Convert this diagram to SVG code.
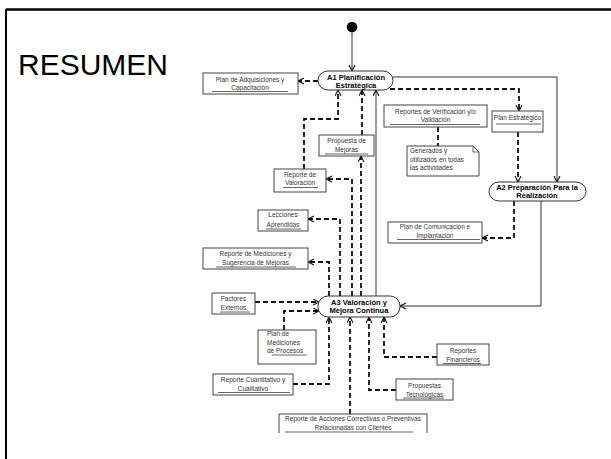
<svg xmlns="http://www.w3.org/2000/svg" width="611" height="459" viewBox="0 0 611 459">
<style>
.bx{fill:#fff;stroke:#444;stroke-width:1}
.ul{stroke:#555;stroke-width:0.9}
.t{font-family:"Liberation Sans",Arial,sans-serif;font-size:6.5px;fill:#333;text-anchor:middle}
.tl{font-family:"Liberation Sans",Arial,sans-serif;font-size:6.5px;fill:#333}
.nd{fill:#fff;stroke:#333;stroke-width:1}
.nt{font-family:"Liberation Sans",Arial,sans-serif;font-size:7.5px;font-weight:bold;fill:#000;text-anchor:middle}
.d{fill:none;stroke:#111;stroke-width:1.8;stroke-dasharray:5 3;marker-end:url(#ar)}
.s{fill:none;stroke:#333;stroke-width:1;marker-end:url(#ar)}
</style>
<defs>
<marker id="ar" markerUnits="userSpaceOnUse" markerWidth="9" markerHeight="9" refX="6.5" refY="3.5" orient="auto">
<path d="M0.5,0.5 L6.5,3.5 L0.5,6.5" fill="none" stroke="#111" stroke-width="1.1" stroke-dasharray="none"/>
</marker>
</defs>
<rect width="611" height="459" fill="#fff"/>
<g id="frame">
<line x1="6" y1="9.5" x2="611" y2="9.5" stroke="#000" stroke-width="2.5"/>
<line x1="6" y1="9" x2="6" y2="459" stroke="#000" stroke-width="2"/>
</g>
<text x="18" y="75" font-family="Liberation Sans,Arial,sans-serif" font-size="30" fill="#000">RESUMEN</text>
<g id="connectors">
<circle cx="352" cy="27" r="5.3" fill="#000"/>
<path class="s" d="M352,32 V71"/>
<path class="d" d="M318,81 H298"/>
<path class="s" d="M393,77 H557 V182"/>
<path class="d" d="M390,89 H519 V111"/>
<path class="d" d="M518,132 V182"/>
<path class="d" d="M514,201 V238 H482"/>
<path class="s" d="M541,201 V306 H400"/>
<path d="M438,127 V146" fill="none" stroke="#111" stroke-width="1.8" stroke-dasharray="5 3"/>
<path class="d" d="M362,135 V90"/>
<path class="s" d="M376,296 V90"/>
<path class="d" d="M304,169 V119 H338 V90"/>
<path class="d" d="M352,296 V179 H326"/>
<path class="d" d="M361,296 V156"/>
<path class="d" d="M340,296 V219 H308"/>
<path class="d" d="M329,296 V262 H308"/>
<path class="d" d="M255,302 H319"/>
<path class="d" d="M284,330 V311 H319"/>
<path class="d" d="M293,384 H329 V317"/>
<path class="d" d="M350,414 V317"/>
<path class="d" d="M396,390 H369 V317"/>
<path class="d" d="M437,357 H384 V317"/>
</g>
<g id="A1">
<rect class="nd" x="318" y="71" width="75" height="19" rx="10" ry="9.5"/>
<text class="nt" x="356" y="79.8">A1 Planificación</text>
<text class="nt" x="356" y="88">Estratégica</text>
</g>
<g id="A2">
<rect class="nd" x="489" y="182" width="97" height="19" rx="10" ry="9.5"/>
<text class="nt" x="537" y="190">A2 Preparación Para la</text>
<text class="nt" x="537" y="198">Realización</text>
</g>
<g id="A3">
<rect class="nd" x="318" y="296" width="82" height="21" rx="10" ry="10"/>
<text class="nt" x="359" y="305">A3 Valoración y</text>
<text class="nt" x="359" y="313">Mejora Continua</text>
</g>
<g id="plan-adquisiciones">
<rect class="bx" x="203" y="73" width="95" height="21"/>
<text class="t" x="250" y="81.5">Plan de Adquisiciones y</text>
<text class="t" x="250" y="89.5">Capacitación</text>
<line class="ul" x1="212" y1="91.5" x2="288" y2="91.5"/>
</g>
<g id="propuesta-mejoras">
<rect class="bx" x="319" y="135" width="55" height="21"/>
<text class="t" x="346.5" y="142.5">Propuesta de</text>
<text class="t" x="346.5" y="151.5">Mejoras</text>
<line class="ul" x1="325" y1="154" x2="368" y2="154"/>
</g>
<g id="reportes-verificacion">
<rect class="bx" x="384" y="105" width="103" height="22"/>
<text class="t" x="435.5" y="114">Reportes de Verificación y/o</text>
<text class="t" x="435.5" y="122">Validación</text>
<line class="ul" x1="390" y1="124.5" x2="480" y2="124.5"/>
</g>
<g id="plan-estrategico">
<rect class="bx" x="492" y="111" width="51" height="21"/>
<text class="t" x="517.5" y="119.5">Plan Estratégico</text>
<line class="ul" x1="496" y1="124" x2="541" y2="124"/>
</g>
<g id="nota">
<path class="bx" d="M407,146 H473 L479,152 V176 H407 Z"/>
<path d="M473,146 V152 H479" fill="none" stroke="#444" stroke-width="0.8"/>
<text class="tl" x="410" y="153">Generados y</text>
<text class="tl" x="410" y="161.5">utilizados en todas</text>
<text class="tl" x="410" y="170">las actividades</text>
</g>
<g id="plan-comunicacion">
<rect class="bx" x="388" y="222" width="94" height="21"/>
<text class="t" x="435" y="228.5">Plan de Comunicación e</text>
<text class="t" x="435" y="237.5">Implantación</text>
<line class="ul" x1="397" y1="239.5" x2="480" y2="239.5"/>
</g>
<g id="reporte-valoracion">
<rect class="bx" x="274" y="169" width="52" height="23"/>
<text class="t" x="300" y="176.5">Reporte de</text>
<text class="t" x="300" y="185">Valoración</text>
<line class="ul" x1="283" y1="187.5" x2="318" y2="187.5"/>
</g>
<g id="lecciones">
<rect class="bx" x="258" y="210" width="50" height="21"/>
<text class="t" x="283" y="217">Lecciones</text>
<text class="t" x="283" y="226.5">Aprendidas</text>
<line class="ul" x1="266" y1="229" x2="301" y2="229"/>
</g>
<g id="reporte-mediciones">
<rect class="bx" x="203" y="248" width="105" height="21"/>
<text class="t" x="255.5" y="256">Reporte de Mediciones y</text>
<text class="t" x="255.5" y="265">Sugerencia de Mejoras</text>
<line class="ul" x1="216" y1="267" x2="296" y2="267"/>
</g>
<g id="factores">
<rect class="bx" x="212" y="293" width="43" height="21"/>
<text class="t" x="233.5" y="301">Factores</text>
<text class="t" x="233.5" y="310">Externos</text>
<line class="ul" x1="220" y1="312" x2="250" y2="312"/>
</g>
<g id="plan-mediciones">
<rect class="bx" x="258" y="330" width="58" height="34"/>
<text class="tl" x="267" y="336">Plan de</text>
<text class="tl" x="267" y="344.5">Mediciones</text>
<text class="tl" x="267" y="352.5">de Procesos</text>
<line class="ul" x1="272" y1="355" x2="307" y2="355"/>
</g>
<g id="reporte-cuantitativo">
<rect class="bx" x="213" y="374" width="80" height="21"/>
<text class="t" x="253" y="382">Reporte Cuantitativo y</text>
<text class="t" x="253" y="390.5">Cualitativo</text>
<line class="ul" x1="218" y1="392.5" x2="290" y2="392.5"/>
</g>
<g id="reporte-acciones">
<path d="M279,433 V414 H427 V433" fill="#fff" stroke="#444" stroke-width="1"/>
<text class="t" x="353" y="421">Reporte de Acciones Correctivas o Preventivas</text>
<text class="t" x="353" y="430">Relacionadas con Clientes</text>
<line class="ul" x1="285" y1="432" x2="413" y2="432"/>
</g>
<g id="propuestas-tecnologicas">
<rect class="bx" x="396" y="379" width="57" height="21"/>
<text class="t" x="424.5" y="388">Propuestas</text>
<text class="t" x="424.5" y="396.5">Tecnológicas</text>
<line class="ul" x1="403" y1="398" x2="444" y2="398"/>
</g>
<g id="reportes-financieros">
<rect class="bx" x="437" y="344" width="52" height="21"/>
<text class="t" x="463" y="353">Reportes</text>
<text class="t" x="463" y="361.5">Financieros</text>
<line class="ul" x1="443" y1="363.5" x2="481" y2="363.5"/>
</g>
</svg>
